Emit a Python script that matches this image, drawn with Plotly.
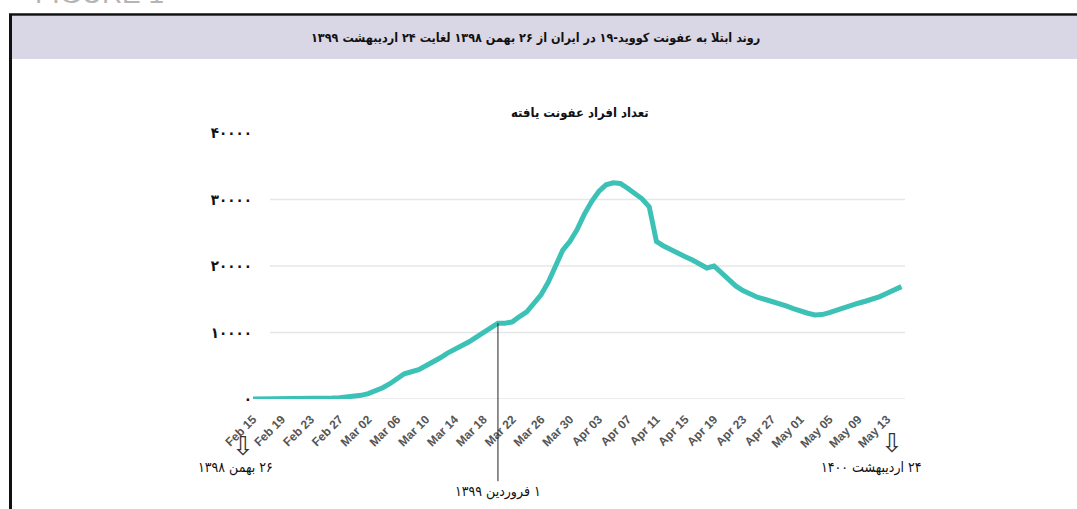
import plotly.graph_objects as go
import pandas as pd

# daily values, Feb 15 .. May 15 2020
dates = pd.date_range("2020-02-15", "2020-05-15", freq="D")

infected = [
    0, 0, 0, 0, 2, 5, 18, 28, 43, 61,
    95, 139, 200, 270, 370, 550, 800, 1200, 1700, 2300,
    3000, 3800, 4100, 4400, 5000, 5560, 6200, 6900, 7400, 7900,
    8600, 9300, 10000, 10900, 11400, 11400, 11600, 12400, 13100, 14400,
    15700, 17600, 20000, 22400, 23700, 25500, 27800, 29700, 31200, 32200,
    32500, 32400, 31700, 31000, 30100, 28900, 23700, 23000, 22400, 22000,
    21400, 20900, 20300, 19700, 20000, 19000, 17900, 17000, 16300, 15700,
    15300, 15000, 14700, 14400, 14000, 13600, 13200, 12900, 12650, 12700,
    13000, 13400, 13800, 14200, 14400, 14700, 15000, 15400, 15900, 16400,
    16900
]

y_ticks = [0, 10000, 20000, 30000, 40000]

fa_digits = str.maketrans("0123456789", "۰۱۲۳۴۵۶۷۸۹")
y_ticktext = [str(v).translate(fa_digits) for v in y_ticks]

main_title = "روند ابتلا به عفونت کووید-۱۹ در ایران از ۲۶ بهمن ۱۳۹۸ لغایت ۲۴ اردیبهشت ۱۳۹۹"
chart_title = "تعداد افراد عفونت یافته"
start_note = "۲۶ بهمن ۱۳۹۸"
end_note = "۲۴ اردیبهشت ۱۴۰۰"
nowruz_note = "۱ فروردین ۱۳۹۹"
nowruz_date = "2020-03-20"

W, H = 1077, 509
L, R, T, B = 253, 905, 133, 399


def px(x):
    return (x - L) / (R - L)


def py(y):
    return (B - y) / (B - T)


def rtl(s):
    # keep persian text in right-to-left order inside the svg
    return "\u202b" + s + "\u202c"


fa_font = "DejaVu Sans Condensed, DejaVu Sans"

fig = go.Figure()

fig.add_trace(
    go.Scatter(
        x=dates,
        y=infected,
        mode="lines",
        line=dict(color="#3cc1b7", width=5),
        hoverinfo="x+y"
    )
)

shapes = []

# frame and title band
shapes.append(dict(type="rect", xref="paper", yref="paper",
                   x0=px(12), x1=px(1080), y0=py(59), y1=py(16),
                   fillcolor="#d9d7e5", line=dict(width=0), layer="below"))
shapes.append(dict(type="line", xref="paper", yref="paper",
                   x0=px(9), x1=px(1080), y0=py(14.5), y1=py(14.5),
                   line=dict(color="#111111", width=2.5)))
shapes.append(dict(type="line", xref="paper", yref="paper",
                   x0=px(10.5), x1=px(10.5), y0=py(14), y1=py(515),
                   line=dict(color="#111111", width=3)))

# gridlines (no line at the top tick)
for v in y_ticks[:-1]:
    shapes.append(dict(type="line", xref="paper", yref="y",
                       x0=px(270), x1=1, y0=v, y1=v,
                       line=dict(color="#e6e6e6", width=1.5), layer="below"))


def note(text, x, y, size=14, family=fa_font, color="#111111"):
    return dict(text=text, xref="paper", yref="paper", x=px(x), y=py(y),
                xanchor="center", yanchor="middle", showarrow=False,
                font=dict(family=family, size=size, color=color))


annotations = [
    dict(text="FIGURE 1", xref="paper", yref="paper",
         x=px(33), y=py(11), xanchor="left", yanchor="bottom",
         showarrow=False, font=dict(family="Liberation Sans", size=28, color="#b5b5b5")),
    note("<b>" + rtl(main_title) + "</b>", 535, 37, size=12.5),
    note("<b>" + rtl(chart_title) + "</b>", 580, 113, size=13),
    dict(text=rtl(nowruz_note), x=nowruz_date, y=infected[dates.get_loc(nowruz_date)],
         xref="x", yref="y", showarrow=True, arrowhead=0, arrowwidth=1,
         arrowcolor="#222222", ax=0, ay=168,
         font=dict(family=fa_font, size=14, color="#111111")),
    note("⇩", 243, 446, size=26, family="DejaVu Sans", color="#333333"),
    note(rtl(start_note), 235, 467),
    note("⇩", 892, 443, size=26, family="DejaVu Sans", color="#333333"),
    note(rtl(end_note), 871, 467),
]

fig.update_layout(
    width=W,
    height=H,
    margin=dict(l=L, r=W - R, t=T, b=H - B),
    paper_bgcolor="white",
    plot_bgcolor="white",
    showlegend=False,
    shapes=shapes,
    annotations=annotations,
    xaxis=dict(
        range=["2020-02-15", "2020-05-15 12:00"],
        tick0="2020-02-15",
        dtick=4 * 86400000,
        tickformat="%b %d",
        tickangle=-45,
        ticklabelstandoff=10,
        showgrid=False,
        zeroline=False,
        showline=False,
        ticks="",
        tickfont=dict(family="Liberation Sans", size=12, color="#555555", weight="bold")
    ),
    yaxis=dict(
        range=[0, 40000],
        tickvals=y_ticks,
        ticktext=y_ticktext,
        showgrid=False,
        zeroline=False,
        showline=False,
        ticks="",
        tickfont=dict(family=fa_font, size=15, color="#111111", weight="bold")
    )
)

fig.write_html(
    "out.html",
    config={"displayModeBar": False},
    post_script="document.body.style.margin='0';"
)
